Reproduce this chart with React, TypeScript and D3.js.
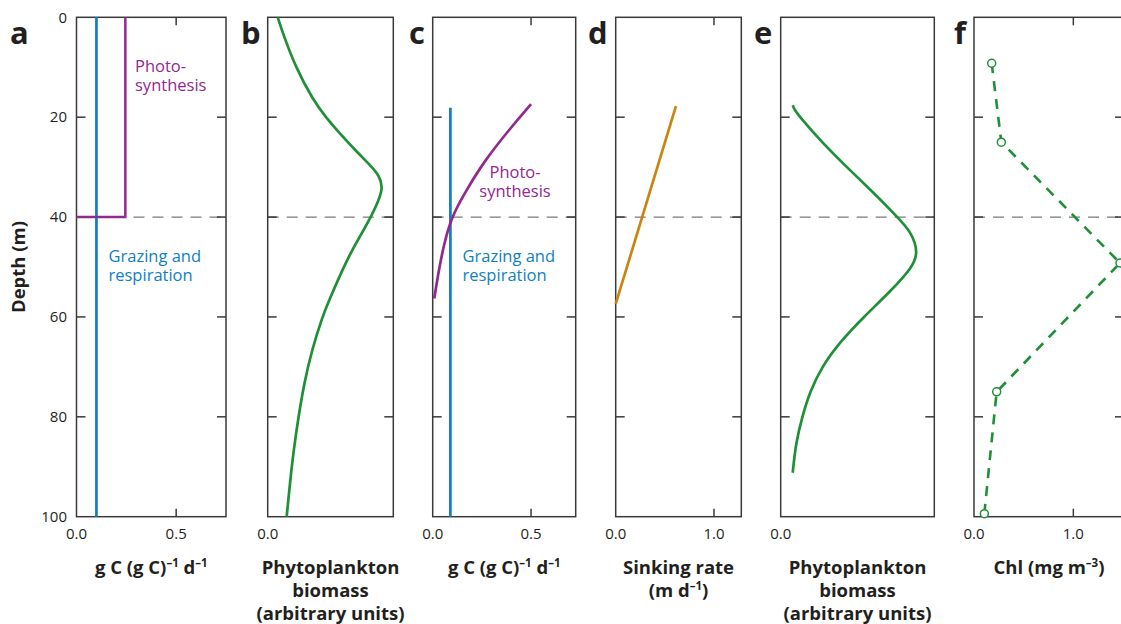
import React from 'react';
import * as d3 from 'd3';

// ---------- data ----------
const depthTicks = [0, 20, 40, 60, 80, 100];
const depthInnerTicks = [20, 40, 60, 80];
const mixedLayerDepth = 40;

// panel a: rates, g C (g C)^-1 d^-1
const aGrazing = [{ d: 0, v: 0.1 }, { d: 100, v: 0.1 }];
const aPhoto = [{ d: 0, v: 0.245 }, { d: 40, v: 0.245 }, { d: 40, v: 0 }];

// panel b: phytoplankton biomass (arbitrary units)
const bBiomass = [
  { d: 0, v: 0.08 }, { d: 3.3, v: 0.122 }, { d: 10, v: 0.222 }, { d: 16.6, v: 0.362 },
  { d: 20, v: 0.462 }, { d: 23.3, v: 0.575 }, { d: 26.6, v: 0.697 }, { d: 30, v: 0.83 },
  { d: 31.6, v: 0.885 }, { d: 34, v: 0.918 }, { d: 36.6, v: 0.885 }, { d: 40, v: 0.822 },
  { d: 43.3, v: 0.748 }, { d: 46.6, v: 0.673 }, { d: 50, v: 0.605 }, { d: 56.6, v: 0.49 },
  { d: 60, v: 0.435 }, { d: 66.6, v: 0.352 }, { d: 73.3, v: 0.29 }, { d: 80, v: 0.245 },
  { d: 86.6, v: 0.207 }, { d: 93.3, v: 0.177 }, { d: 100, v: 0.151 },
];

// panel c: rates
const cGrazing = [{ d: 18.1, v: 0.09 }, { d: 100, v: 0.09 }];
const cPhoto = [
  { d: 17.4, v: 0.5 }, { d: 22.2, v: 0.395 }, { d: 28.9, v: 0.259 }, { d: 35.6, v: 0.157 },
  { d: 40, v: 0.096 }, { d: 45.6, v: 0.056 }, { d: 50.9, v: 0.03 }, { d: 56.3, v: 0.008 },
];

// panel d: sinking rate (m d^-1)
const dSinking = [{ d: 17.8, v: 0.613 }, { d: 57.4, v: 0 }];

// panel e: phytoplankton biomass (arbitrary units)
const eBiomass = [
  { d: 17.6, v: 0.078 }, { d: 18.5, v: 0.09 }, { d: 20, v: 0.126 }, { d: 25, v: 0.267 },
  { d: 30, v: 0.43 }, { d: 35, v: 0.6 }, { d: 40, v: 0.76 }, { d: 43, v: 0.85 },
  { d: 47, v: 0.895 }, { d: 50, v: 0.86 }, { d: 55, v: 0.71 }, { d: 60, v: 0.54 },
  { d: 65, v: 0.386 }, { d: 70, v: 0.267 }, { d: 75, v: 0.19 }, { d: 80, v: 0.14 },
  { d: 85, v: 0.1 }, { d: 91.2, v: 0.078 },
];

// panel f: chlorophyll (mg m^-3)
const fChl = [
  { d: 9.2, v: 0.178 }, { d: 25, v: 0.275 }, { d: 49.2, v: 1.47 },
  { d: 75, v: 0.228 }, { d: 99.4, v: 0.104 },
];

// ---------- style ----------
const FONT = "'Open Sans', 'Noto Sans', sans-serif";
const INK = '#231f20';
const AXIS = '#3a3a3a';
const BLUE = '#0e7fc3';
const PURPLE = '#93288f';
const GREEN = '#1f8f38';
const ORANGE = '#c98512';

const yScale = d3.scaleLinear().domain([0, 100]).range([17.3, 516.7]);

type Pt = { d: number; v: number };

const panels = [
  { key: 'a', letter: 'a', letterX: 10, x0: 76.5, x1: 226, dom: [0, 0.75], xTicks: [0.5], xLabels: [0, 0.5], fmt: '.1f' },
  { key: 'b', letter: 'b', letterX: 241, x0: 267.7, x1: 393.3, dom: [0, 1], xTicks: [], xLabels: [0], fmt: '.1f' },
  { key: 'c', letter: 'c', letterX: 409, x0: 432.7, x1: 575.7, dom: [0, 0.727], xTicks: [0.5], xLabels: [0, 0.5], fmt: '.1f' },
  { key: 'd', letter: 'd', letterX: 588, x0: 615.7, x1: 741.3, dom: [0, 1.278], xTicks: [1], xLabels: [0, 1], fmt: '.1f' },
  { key: 'e', letter: 'e', letterX: 754, x0: 780.7, x1: 934.3, dom: [0, 1], xTicks: [], xLabels: [0], fmt: '.1f' },
  { key: 'f', letter: 'f', letterX: 954, x0: 974, x1: 1124, dom: [0, 1.51], xTicks: [1], xLabels: [0, 1], fmt: '.1f' },
];

function makeX(p: any) {
  return d3.scaleLinear().domain(p.dom).range([p.x0, p.x1]);
}

function linePath(x: any, data: Pt[], smooth: boolean) {
  const gen = d3
    .line<Pt>()
    .x((p) => x(p.v))
    .y((p) => yScale(p.d));
  if (smooth) gen.curve(d3.curveBasis);
  return gen(data) || '';
}

const Sup = ({ children }: { children: string }) => (
  <tspan dy={-7} fontSize={11.5}>{children}</tspan>
);

function Frame({ p }: { p: any }) {
  const x = makeX(p);
  const fmt = d3.format(p.fmt);
  const yTop = yScale(0);
  const yBot = yScale(100);
  const tl = 9;
  return (
    <g>
      <line x1={p.x0} x2={p.x1} y1={yScale(mixedLayerDepth)} y2={yScale(mixedLayerDepth)}
        stroke="#7a7a7a" strokeWidth={1.2} strokeDasharray="11,8" />
      <rect x={p.x0} y={yTop} width={p.x1 - p.x0} height={yBot - yTop} fill="none" stroke={AXIS} strokeWidth={1.5} />
      {depthInnerTicks.map((t) => (
        <g key={t}>
          <line x1={p.x0} x2={p.x0 + tl} y1={yScale(t)} y2={yScale(t)} stroke={AXIS} strokeWidth={1.5} />
          <line x1={p.x1 - tl} x2={p.x1} y1={yScale(t)} y2={yScale(t)} stroke={AXIS} strokeWidth={1.5} />
        </g>
      ))}
      {p.xTicks.map((t: number) => (
        <g key={t}>
          <line x1={x(t)} x2={x(t)} y1={yTop} y2={yTop + 8} stroke={AXIS} strokeWidth={1.5} />
          <line x1={x(t)} x2={x(t)} y1={yBot - 8} y2={yBot} stroke={AXIS} strokeWidth={1.5} />
        </g>
      ))}
      {p.xLabels.map((t: number) => (
        <text key={t} x={x(t)} y={538.5} textAnchor="middle" fontSize={15} fill={INK} fontFamily={FONT}>
          {fmt(t)}
        </text>
      ))}
      <text x={p.letterX} y={44} fontSize={31} fontWeight={700} fill={INK} fontFamily={FONT}>
        {p.letter}
      </text>
    </g>
  );
}

export default function App() {
  const xs: any = {};
  panels.forEach((p) => (xs[p.key] = makeX(p)));
  const mid = (k: string) => {
    const p = panels.find((q) => q.key === k)!;
    return (p.x0 + p.x1) / 2;
  };
  const titleProps = { fontSize: 18.5, fontWeight: 700, fill: INK, fontFamily: FONT, textAnchor: 'middle' as const };
  const annot = { fontSize: 16.5, fontFamily: FONT };

  return (
    <svg width={1121} height={624} style={{ position: 'absolute', left: 0, top: 0, background: '#fff' }}>
      <rect width={1121} height={624} fill="#fff" />
      {panels.map((p) => (
        <Frame key={p.key} p={p} />
      ))}

      {depthTicks.map((t) => (
        <text key={t} x={67} y={yScale(t) + 5.3} textAnchor="end" fontSize={15} fill={INK} fontFamily={FONT}>
          {t}
        </text>
      ))}
      <text transform={`translate(25,${267}) rotate(-90)`} {...titleProps}>Depth (m)</text>

      {/* panel a */}
      <path d={linePath(xs.a, aGrazing, false)} fill="none" stroke={BLUE} strokeWidth={2.7} />
      <path d={linePath(xs.a, aPhoto, false)} fill="none" stroke={PURPLE} strokeWidth={2.5} />
      <text x={135} y={71.5} fill={PURPLE} {...annot}>Photo-</text>
      <text x={135} y={90.5} fill={PURPLE} {...annot}>synthesis</text>
      <text x={108.5} y={262} fill={BLUE} {...annot}>Grazing and</text>
      <text x={108.5} y={281} fill={BLUE} {...annot}>respiration</text>

      {/* panel b */}
      <path d={linePath(xs.b, bBiomass, true)} fill="none" stroke={GREEN} strokeWidth={2.7} />

      {/* panel c */}
      <path d={linePath(xs.c, cGrazing, false)} fill="none" stroke={BLUE} strokeWidth={2.7} />
      <path d={linePath(xs.c, cPhoto, true)} fill="none" stroke={PURPLE} strokeWidth={2.7} />
      <text x={515} y={178} fill={PURPLE} textAnchor="middle" {...annot}>Photo-</text>
      <text x={515} y={197} fill={PURPLE} textAnchor="middle" {...annot}>synthesis</text>
      <text x={462.5} y={262} fill={BLUE} {...annot}>Grazing and</text>
      <text x={462.5} y={281} fill={BLUE} {...annot}>respiration</text>

      {/* panel d */}
      <path d={linePath(xs.d, dSinking, false)} fill="none" stroke={ORANGE} strokeWidth={2.7} />

      {/* panel e */}
      <path d={linePath(xs.e, eBiomass, true)} fill="none" stroke={GREEN} strokeWidth={2.7} />

      {/* panel f */}
      <path d={linePath(xs.f, fChl, false)} fill="none" stroke={GREEN} strokeWidth={2.6} strokeDasharray="10,8" />
      {fChl.map((p, i) => (
        <circle key={i} cx={xs.f(p.v)} cy={yScale(p.d)} r={4} fill="#fff" stroke={GREEN} strokeWidth={1.5} />
      ))}

      {/* axis titles */}
      <text x={mid('a')} y={574} {...titleProps}>
        g C (g C)<Sup>–1</Sup><tspan dy={7}> d</tspan><Sup>–1</Sup>
      </text>
      <text x={mid('b')} y={574} {...titleProps}>Phytoplankton</text>
      <text x={mid('b')} y={597} {...titleProps}>biomass</text>
      <text x={mid('b')} y={620} {...titleProps}>(arbitrary units)</text>
      <text x={mid('c')} y={574} {...titleProps}>
        g C (g C)<Sup>–1</Sup><tspan dy={7}> d</tspan><Sup>–1</Sup>
      </text>
      <text x={mid('d')} y={574} {...titleProps}>Sinking rate</text>
      <text x={mid('d')} y={597} {...titleProps}>
        (m d<Sup>–1</Sup><tspan dy={7}>)</tspan>
      </text>
      <text x={mid('e')} y={574} {...titleProps}>Phytoplankton</text>
      <text x={mid('e')} y={597} {...titleProps}>biomass</text>
      <text x={mid('e')} y={620} {...titleProps}>(arbitrary units)</text>
      <text x={mid('f')} y={574} {...titleProps}>
        Chl (mg m<Sup>–3</Sup><tspan dy={7}>)</tspan>
      </text>
    </svg>
  );
}
